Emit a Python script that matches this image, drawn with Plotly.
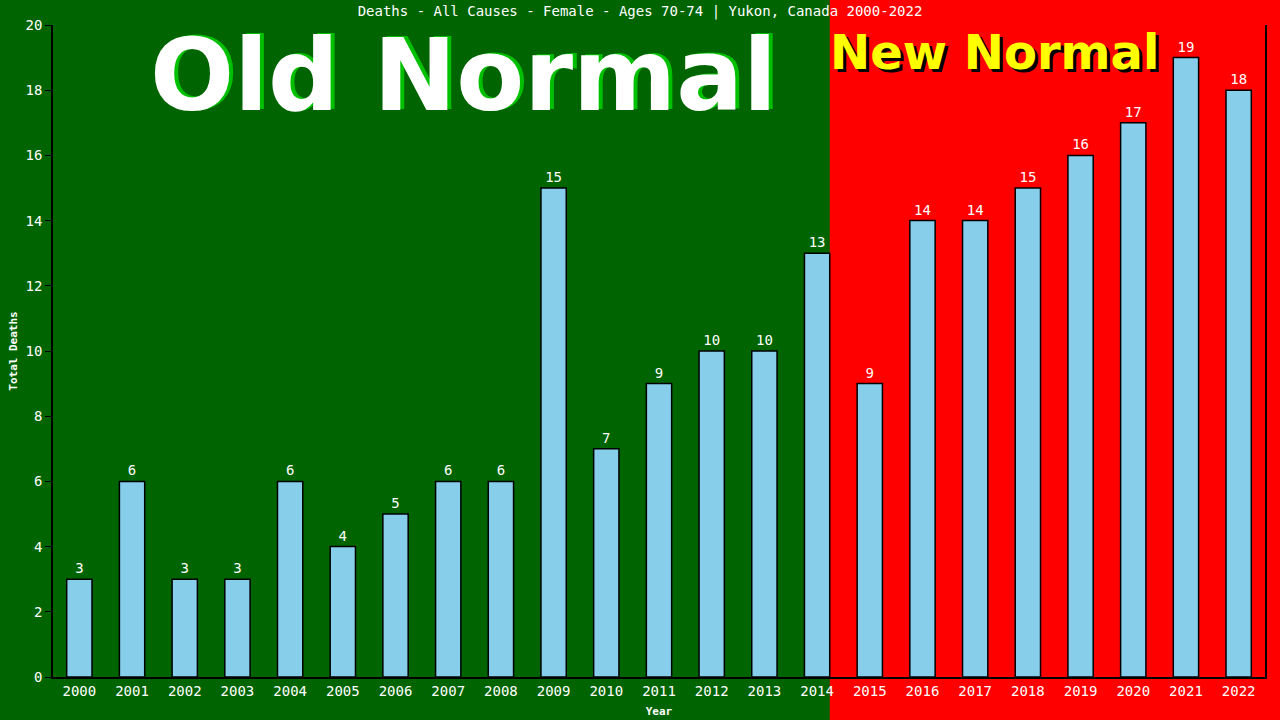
import plotly.graph_objects as go

# data
years = list(range(2000, 2023))
deaths = [3, 6, 3, 3, 6, 4, 5, 6, 6, 15, 7, 9, 10, 10, 13, 9, 14, 14, 15, 16, 17, 19, 18]
y_ticks = [0, 2, 4, 6, 8, 10, 12, 14, 16, 18, 20]

title_text = "Deaths - All Causes - Female - Ages 70-74 | Yukon, Canada 2000-2022"
mono = "DejaVu Sans Mono"
bar_width = 0.48

# where the green "old normal" background stops: right edge of the 2014 bar
x_lo, x_hi = years[0] - 0.5, years[-1] + 0.5
split = (2014 + bar_width / 2 - x_lo) / (x_hi - x_lo)

fig = go.Figure()
fig.add_trace(go.Bar(
    x=years,
    y=deaths,
    width=bar_width,
    marker=dict(color="#87CEEB", line=dict(color="black", width=1.5)),
    text=deaths,
    textposition="outside",
    textfont=dict(family=mono, size=14, color="white"),
    cliponaxis=False,
    hoverinfo="x+y",
))

# green background for the old period, red paper for the rest
fig.add_shape(type="rect", xref="paper", yref="paper",
              x0=-1, x1=split, y0=-1, y1=2,
              fillcolor="#006400", line_width=0, layer="below")

# big labels, drop shadows done with css text-shadow
big = dict(xref="paper", yref="paper", showarrow=False, xanchor="center", yanchor="middle")
fig.add_annotation(text="<b>Old Normal</b>", x=0.339, y=0.922,
                   font=dict(family="DejaVu Sans", size=99, color="white",
                             shadow="4px -1px 0px #00C000"), **big)
fig.add_annotation(text="<b>New Normal</b>", x=0.777, y=0.959,
                   font=dict(family="DejaVu Sans", size=48, color="yellow",
                             shadow="3px 3px 0px black"), **big)

fig.update_layout(
    width=1280, height=720,
    paper_bgcolor="#FF0000",
    plot_bgcolor="rgba(0,0,0,0)",
    margin=dict(l=51, r=15, t=25, b=43),
    showlegend=False,
    title=dict(text=title_text, x=0.5, xanchor="center", y=0.985, yanchor="middle",
               font=dict(family=mono, size=14, color="white")),
    font=dict(family=mono, color="white"),
)
fig.update_xaxes(
    range=[x_lo, x_hi], tickmode="array", tickvals=years, ticktext=[str(y) for y in years],
    showgrid=False, zeroline=False, showline=True, linecolor="black", linewidth=1.5,
    ticks="", tickfont=dict(family=mono, size=14, color="white"), automargin=False,
    title=dict(text="<b>Year</b>", font=dict(family=mono, size=11, color="white"), standoff=10),
)
fig.update_yaxes(
    range=[0, 20], tickmode="array", tickvals=y_ticks,
    showgrid=False, zeroline=False, showline=True, linecolor="black", linewidth=1.5,
    mirror=True, ticks="outside", ticklen=6, tickcolor="black",
    tickfont=dict(family=mono, size=14, color="white"),
    title=dict(text="<b>Total Deaths</b>", font=dict(family=mono, size=11, color="white"), standoff=6),
)

# drop the browser's default body margin so the chart fills the window
fig.write_html("out.html", config={"displayModeBar": False},
               post_script="document.body.style.margin='0';")
